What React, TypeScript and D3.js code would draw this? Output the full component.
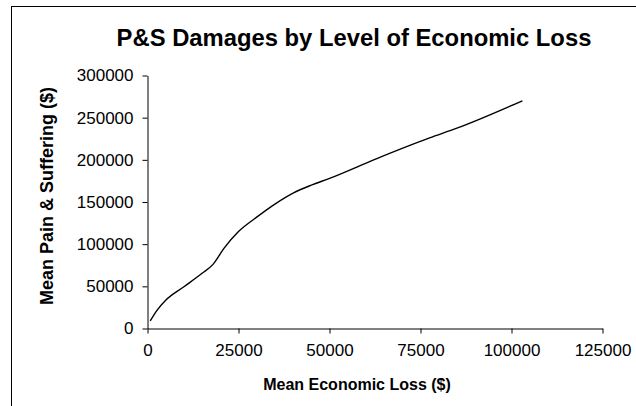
import React, { useEffect, useRef } from 'react';
import * as d3 from 'd3';

// mean economic loss ($) and mean pain & suffering ($)
const econLoss = [750, 2500, 5000, 10000, 15000, 18000, 21000, 25000, 30000, 35000, 40000, 45000, 50000, 63000, 77500, 85000, 103000];
const painSuffering = [9000, 21000, 33500, 49500, 65500, 76000, 95000, 115000, 132000, 147500, 160500, 170000, 178000, 201500, 226000, 237500, 270000];

const xTicks = [0, 25000, 50000, 75000, 100000, 125000];
const yTicks = [0, 50000, 100000, 150000, 200000, 250000, 300000];

const title = 'P&S Damages by Level of Economic Loss';
const xTitle = 'Mean Economic Loss ($)';
const yTitle = 'Mean Pain & Suffering ($)';

const W = 636;
const H = 406;

const App = () => {
  const ref = useRef<SVGGElement>(null);

  useEffect(() => {
    const g = d3.select(ref.current);
    g.selectAll('*').remove();

    // plot area
    const x = d3.scaleLinear().domain([0, 125000]).range([147.5, 602.5]);
    const y = d3.scaleLinear().domain([0, 300000]).range([328.5, 75.5]);

    const font = '"Liberation Sans", Arial, sans-serif';

    // chart frame (clipped at right and bottom like the source)
    g.append('rect')
      .attr('x', 11.5)
      .attr('y', 6.5)
      .attr('width', W + 20)
      .attr('height', H + 20)
      .attr('fill', 'white')
      .attr('stroke', '#000')
      .attr('stroke-width', 1);

    // x axis
    const xAxis = g.append('g')
      .attr('transform', `translate(0,${y(0)})`)
      .call(d3.axisBottom(x).tickValues(xTicks).tickSize(5).tickSizeOuter(0).tickPadding(10).tickFormat(d3.format('d')));

    // y axis
    const yAxis = g.append('g')
      .attr('transform', `translate(${x(0)},0)`)
      .call(d3.axisLeft(y).tickValues(yTicks).tickSize(5).tickSizeOuter(0).tickPadding(9).tickFormat(d3.format('d')));

    [xAxis, yAxis].forEach(a => {
      a.select('.domain').attr('stroke', '#000');
      a.selectAll('.tick line').attr('stroke', '#000');
      a.selectAll('.tick text')
        .attr('fill', '#000')
        .style('font-family', font)
        .style('font-size', '17px');
    });

    // the curve
    const pts = econLoss.map((v, i) => [v, painSuffering[i]] as [number, number]);
    const line = d3.line<[number, number]>()
      .x(d => x(d[0]))
      .y(d => y(d[1]))
      .curve(d3.curveMonotoneX);

    g.append('path')
      .datum(pts)
      .attr('d', line)
      .attr('fill', 'none')
      .attr('stroke', '#000')
      .attr('stroke-width', 1.4);

    // titles
    g.append('text')
      .attr('x', 354)
      .attr('y', 46)
      .attr('text-anchor', 'middle')
      .style('font-family', font)
      .style('font-size', '23.8px')
      .style('font-weight', 'bold')
      .text(title);

    g.append('text')
      .attr('x', 357)
      .attr('y', 390)
      .attr('text-anchor', 'middle')
      .style('font-family', font)
      .style('font-size', '16px')
      .style('font-weight', 'bold')
      .text(xTitle);

    g.append('text')
      .attr('transform', 'translate(53,196) rotate(-90)')
      .attr('text-anchor', 'middle')
      .style('font-family', font)
      .style('font-size', '18px')
      .style('font-weight', 'bold')
      .text(yTitle);
  }, []);

  return (
    <svg width={W} height={H} style={{ position: 'absolute', left: 0, top: 0, background: 'white' }}>
      <g ref={ref} />
    </svg>
  );
};

export default App;
